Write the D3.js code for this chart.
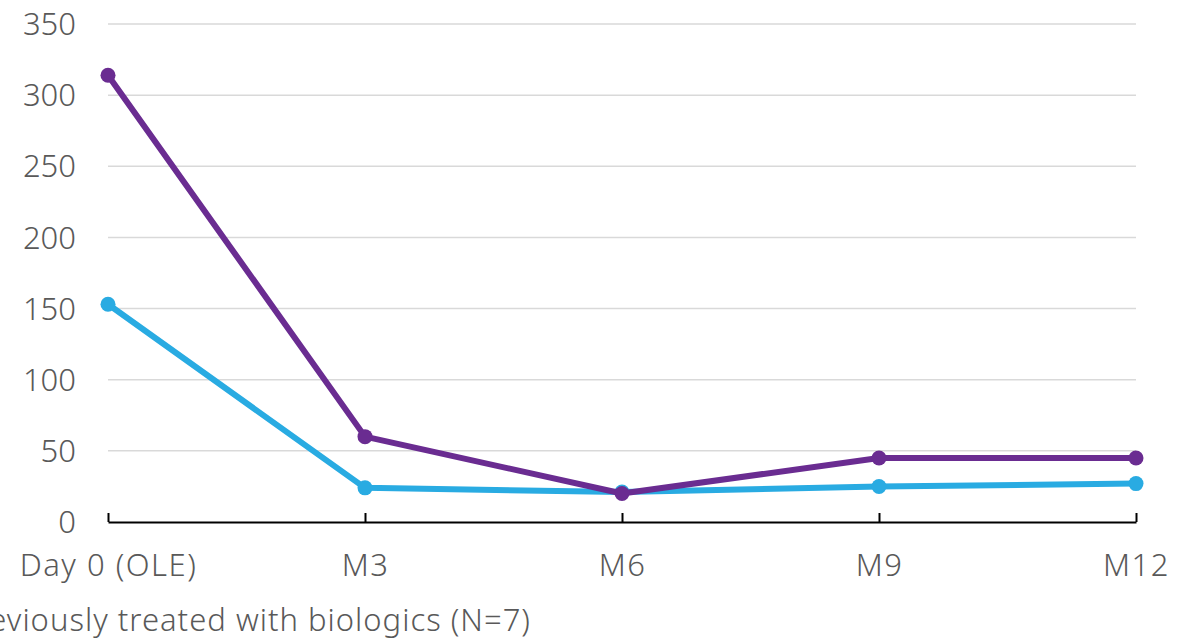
<!DOCTYPE html>
<html><head><meta charset="utf-8">
<script src="https://cdn.jsdelivr.net/npm/d3@7"></script>
<style>html,body{margin:0;padding:0;background:#fff;overflow:hidden}</style>
</head><body>
<svg id="c" width="1201" height="639"></svg>
<script>
const categories = ["Day 0 (OLE)", "M3", "M6", "M9", "M12"];
const purpleValues = [314, 60, 20, 45, 45];
const blueValues = [153, 24, 21, 25, 27];
const yTicks = [0, 50, 100, 150, 200, 250, 300, 350];
const legendLabel = "Previously treated with biologics (N=7)";

const svg = d3.select("#c");
const font = "'Noto Sans', sans-serif";
const x = d3.scalePoint().domain(categories).range([108, 1136]).padding(0);
const y = d3.scaleLinear().domain([0, 350]).range([522, 24]);

// gridlines
svg.append("g").selectAll("line").data(yTicks.filter(d => d > 0)).join("line")
  .attr("x1", 108).attr("x2", 1136)
  .attr("y1", d => y(d)).attr("y2", d => y(d))
  .attr("stroke", "#d9d9d9").attr("stroke-width", 1.5);

// y labels
svg.append("g").selectAll("text").data(yTicks).join("text")
  .attr("x", 76).attr("y", d => y(d)).attr("dy", "0.36em")
  .attr("text-anchor", "end").attr("font-family", font).attr("font-size", 31)
  .attr("font-weight", 300).attr("fill", "#595959").text(d => d);

// x axis
const xa = svg.append("g").attr("transform", "translate(0,522)")
  .call(d3.axisBottom(x).tickSizeInner(-9).tickSizeOuter(0).tickPadding(32));
xa.select(".domain").attr("stroke", "#000").attr("stroke-width", 2);
xa.selectAll(".tick line").attr("stroke", "#000").attr("stroke-width", 2);
xa.selectAll(".tick text").attr("font-family", font).attr("font-size", 31)
  .attr("font-weight", 300).attr("fill", "#595959").attr("dy", "0.71em")
  .attr("letter-spacing", 1.5);

const line = d3.line().x((d, i) => x(categories[i])).y(d => y(d));
const series = [
  {vals: blueValues, color: "#29abe2"},
  {vals: purpleValues, color: "#6a2c91"}
];
series.forEach(s => {
  svg.append("path").datum(s.vals).attr("d", line)
    .attr("fill", "none").attr("stroke", s.color).attr("stroke-width", 6)
    .attr("stroke-linejoin", "round");
  svg.append("g").selectAll("circle").data(s.vals).join("circle")
    .attr("cx", (d, i) => x(categories[i])).attr("cy", d => y(d))
    .attr("r", 7.5).attr("fill", s.color);
});

svg.append("text").attr("x", 531).attr("y", 620).attr("dy", "0.36em")
  .attr("text-anchor", "end").attr("font-family", font).attr("font-size", 31)
  .attr("font-weight", 300).attr("fill", "#595959").attr("letter-spacing", 1)
  .text(legendLabel);
</script>
</body></html>
